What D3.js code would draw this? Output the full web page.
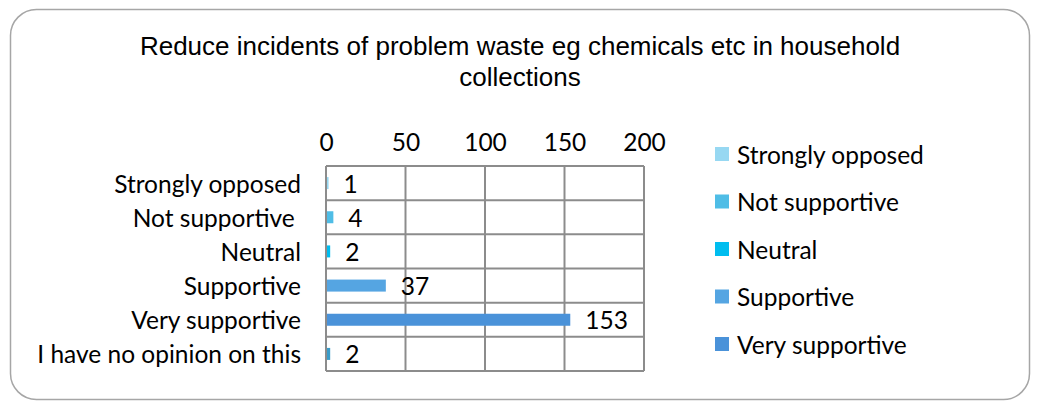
<!DOCTYPE html>
<html>
<head>
<meta charset="utf-8">
<script src="https://cdn.jsdelivr.net/npm/d3@7"></script>
<style>
  body { margin: 0; background: #fff; }
  svg text { fill: #000; }
  .skala { font-family: Lato, "Open Sans", sans-serif; font-size: 24.5px; }
  .titel { font-family: "Liberation Sans", Arial, sans-serif; font-size: 26px; }
</style>
</head>
<body>
<div id="box"></div>
<script>
// Daten
const categories = ["Strongly opposed", "Not supportive ", "Neutral", "Supportive", "Very supportive", "I have no opinion on this"]
const values = [1, 4, 2, 37, 153, 2]
const barColors = ["#97d8f2", "#4fbde6", "#00bdef", "#55a5e2", "#4a92d9", "#3a9cc9"]
const legendLabels = ["Strongly opposed", "Not supportive", "Neutral", "Supportive", "Very supportive"]
const xTicks = [0, 50, 100, 150, 200]
const titleLines = ["Reduce incidents of problem waste eg chemicals etc in household", "collections"]

const screenwidth = 1037
const screenheight = 401

// Plotbereich
const plotX = 326
const plotY = 166
const plotW = 318
const plotH = 205

const svg = d3.select("#box")
  .append("svg")
  .attr("width", screenwidth)
  .attr("height", screenheight)

// Rahmen
svg.append("rect")
  .attr("x", 10.5)
  .attr("y", 9.5)
  .attr("width", 1019)
  .attr("height", 390)
  .attr("rx", 26)
  .attr("ry", 26)
  .style("fill", "#fff")
  .style("stroke", "#a6a6a6")
  .style("stroke-width", 1.5)

// Titel
svg.append("text")
  .attr("class", "titel")
  .attr("text-anchor", "middle")
  .selectAll("tspan")
  .data(titleLines)
  .enter()
  .append("tspan")
  .attr("x", 520)
  .attr("y", (d, i) => 55 + i * 31)
  .text(d => d)

const x = d3.scaleLinear().domain([0, 200]).range([plotX, plotX + plotW])
const y = d3.scaleBand().domain(categories).range([plotY, plotY + plotH])

// Gitter
const grid = svg.append("g").style("stroke", "#8c8c8c").style("stroke-width", 2)
grid.selectAll("line.v")
  .data(xTicks)
  .enter()
  .append("line")
  .attr("x1", d => x(d))
  .attr("x2", d => x(d))
  .attr("y1", plotY)
  .attr("y2", plotY + plotH)
grid.selectAll("line.h")
  .data(categories.concat(["end"]))
  .enter()
  .append("line")
  .attr("x1", plotX)
  .attr("x2", plotX + plotW)
  .attr("y1", (d, i) => plotY + i * y.step())
  .attr("y2", (d, i) => plotY + i * y.step())

// Achse oben
const axis = svg.append("g")
  .attr("transform", "translate(0," + 151 + ")")
  .call(d3.axisTop(x).tickValues(xTicks).tickSize(0).tickPadding(0))
axis.select(".domain").remove()
axis.attr("font-family", null).attr("font-size", null)
axis.selectAll("text").attr("class", "skala").attr("fill", "#000")

// Kategorien
const baseOff = 9.5
svg.append("g")
  .selectAll("text")
  .data(categories)
  .enter()
  .append("text")
  .attr("class", "skala")
  .attr("x", 301)
  .attr("y", d => y(d) + y.bandwidth() / 2 + baseOff)
  .style("text-anchor", "end")
  .style("white-space", "pre")
  .text(d => d)

// Balken
const barH = 12
svg.append("g")
  .selectAll("rect")
  .data(values)
  .enter()
  .append("rect")
  .attr("x", x(0) + 1)
  .attr("y", (d, i) => y(categories[i]) + y.bandwidth() / 2 - barH / 2)
  .attr("width", d => x(d) - x(0))
  .attr("height", barH)
  .style("fill", (d, i) => barColors[i])

// Werte
svg.append("g")
  .selectAll("text")
  .data(values)
  .enter()
  .append("text")
  .attr("class", "skala")
  .attr("x", d => x(d) + 16)
  .attr("y", (d, i) => y(categories[i]) + y.bandwidth() / 2 + baseOff)
  .text(d => d)

// Legende
const legend = svg.append("g")
  .selectAll("g")
  .data(legendLabels)
  .enter()
  .append("g")
  .attr("transform", (d, i) => "translate(715," + (154 + i * 47.5) + ")")
legend.append("rect")
  .attr("x", 0)
  .attr("y", -7)
  .attr("width", 14)
  .attr("height", 14)
  .style("fill", (d, i) => barColors[i])
legend.append("text")
  .attr("class", "skala")
  .attr("x", 22)
  .attr("y", baseOff)
  .text(d => d)
</script>
</body>
</html>
